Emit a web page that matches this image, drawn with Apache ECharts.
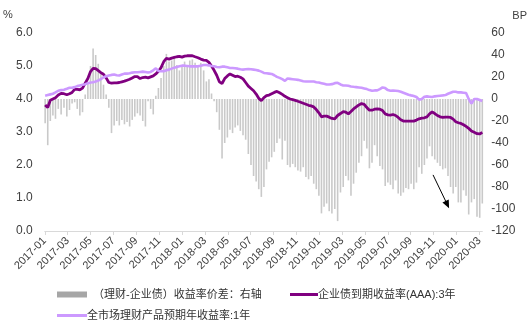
<!DOCTYPE html>
<html>
<head>
<meta charset="utf-8">
<script src="https://cdn.jsdelivr.net/npm/echarts@6/dist/echarts.min.js"></script>
<style>
  html, body { margin: 0; padding: 0; background: #fff; }
  #chart { width: 530px; height: 324px; }
</style>
</head>
<body>
<div id="chart"></div>
<script>
// Weekly observations, first week of 2017 through early March 2020
const firstWeek = '2017-01-02';
const weekCount = 167;

// 企业债到期收益率(AAA):3年, %
const corpYield = [
  3.82,3.74,3.96,4.00,4.04,4.12,4.17,4.16,4.13,4.16,
  4.20,4.29,4.29,4.28,4.33,4.48,4.62,4.83,4.93,4.92,
  4.86,4.80,4.75,4.64,4.50,4.48,4.49,4.49,4.50,4.52,
  4.54,4.57,4.60,4.64,4.68,4.68,4.62,4.65,4.66,4.64,
  4.67,4.70,4.76,4.84,4.95,5.13,5.23,5.21,5.24,5.26,
  5.28,5.29,5.27,5.30,5.31,5.31,5.31,5.28,5.25,5.21,
  5.18,5.17,5.11,5.00,4.87,4.72,4.52,4.47,4.62,4.70,
  4.76,4.72,4.68,4.69,4.66,4.61,4.50,4.39,4.32,4.25,
  4.15,4.02,3.95,4.04,4.10,4.12,4.16,4.20,4.23,4.19,
  4.14,4.08,4.04,4.00,3.98,3.96,3.93,3.90,3.87,3.84,
  3.81,3.79,3.76,3.68,3.58,3.46,3.48,3.48,3.45,3.41,
  3.40,3.50,3.56,3.62,3.60,3.55,3.62,3.70,3.76,3.82,
  3.86,3.84,3.74,3.66,3.66,3.69,3.70,3.69,3.65,3.55,
  3.52,3.51,3.53,3.50,3.44,3.37,3.33,3.33,3.33,3.33,
  3.33,3.36,3.40,3.42,3.43,3.46,3.55,3.61,3.56,3.50,
  3.46,3.44,3.45,3.45,3.44,3.39,3.31,3.28,3.26,3.22,
  3.17,3.11,3.03,2.99,2.95,2.94,2.99
];

// 全市场理财产品预期年收益率:1年, %
const wmpYield = [
  4.10,4.12,4.14,4.16,4.20,4.25,4.27,4.28,4.31,4.34,
  4.34,4.36,4.39,4.41,4.43,4.45,4.48,4.50,4.51,4.53,
  4.56,4.60,4.66,4.69,4.71,4.73,4.74,4.72,4.71,4.74,
  4.77,4.77,4.78,4.80,4.81,4.81,4.82,4.83,4.82,4.80,
  4.82,4.87,4.93,4.85,4.84,4.84,4.87,4.89,4.92,4.95,
  4.97,4.99,5.01,5.01,5.00,4.99,4.99,4.99,4.99,5.01,
  5.03,5.03,5.02,5.00,4.99,4.97,4.96,4.98,4.98,4.96,
  4.94,4.94,4.93,4.92,4.90,4.89,4.90,4.91,4.90,4.89,
  4.88,4.86,4.83,4.79,4.78,4.77,4.76,4.72,4.67,4.64,
  4.60,4.55,4.62,4.61,4.60,4.59,4.58,4.56,4.54,4.53,
  4.53,4.53,4.53,4.51,4.50,4.48,4.46,4.44,4.44,4.45,
  4.48,4.49,4.44,4.41,4.41,4.40,4.38,4.37,4.36,4.35,
  4.34,4.32,4.30,4.27,4.25,4.26,4.26,4.30,4.35,4.33,
  4.27,4.25,4.26,4.25,4.24,4.22,4.19,4.16,4.13,4.11,
  4.09,4.06,3.98,4.00,4.07,4.08,4.07,4.06,4.08,4.09,
  4.10,4.11,4.12,4.16,4.19,4.22,4.22,4.20,4.20,4.19,
  4.18,4.00,3.86,4.00,4.00,3.97,3.94
];

// （理财-企业债）收益率价差, BP (right axis)
const spreadBp = [
  -22,-42,-20,-15,-18,-9,-14,-8,-16,-10,
  -4,-3,-9,-15,-12,4,14,30,46,40,
  32,24,13,4,-8,-31,-24,-20,-24,-19,
  -23,-21,-25,-19,-16,-13,-15,-20,-25,-2,
  -9,-14,3,10,19,30,41,34,35,38,
  31,26,30,34,31,35,36,33,30,33,
  26,16,18,5,-2,-12,-28,-54,-40,-35,
  -28,-31,-26,-24,-29,-33,-37,-50,-60,-70,
  -75,-82,-89,-80,-64,-57,-53,-48,-40,-36,
  -55,-38,-60,-62,-59,-62,-65,-66,-62,-71,
  -73,-70,-77,-82,-88,-104,-98,-95,-102,-104,
  -100,-111,-85,-80,-70,-74,-88,-77,-67,-58,
  -52,-38,-45,-63,-58,-42,-52,-61,-64,-79,
  -76,-78,-82,-74,-86,-88,-85,-81,-82,-77,
  -82,-76,-62,-68,-60,-54,-43,-52,-55,-58,
  -61,-64,-63,-70,-80,-86,-80,-94,-94,-83,
  -88,-105,-94,-91,-107,-108,-95
];

const names = {
  spread: '（理财-企业债）收益率价差：右轴',
  corp: '企业债到期收益率(AAA):3年',
  wmp: '全市场理财产品预期年收益率:1年'
};

const COLORS = { bar: '#c9c9c9', barKey: '#a6a6a6', corp: '#800080', wmp: '#cc99ff' };
const FONT = "'Liberation Sans','Noto Sans CJK SC',sans-serif";

// Week dates as strings
const weeks = [];
{
  const start = new Date(firstWeek + 'T00:00:00Z');
  for (let i = 0; i < weekCount; i++) {
    const d = new Date(start.getTime() + i * 7 * 86400000);
    weeks.push(d.toISOString().slice(0, 10));
  }
}

// Position on the x axis, in months since 2017-01
function monthPos(dateStr) {
  const [y, m, d] = dateStr.split('-').map(Number);
  const dim = new Date(Date.UTC(y, m, 0)).getUTCDate();
  return (y - 2017) * 12 + (m - 1) + (d - 1) / dim;
}
function monthLabel(v) {
  const y = 2017 + Math.floor(v / 12);
  const m = (v % 12) + 1;
  return y + '-' + (m < 10 ? '0' + m : m);
}

const xs = weeks.map(monthPos);
const tickMonths = [];
for (let m = 0; m <= 38; m += 2) tickMonths.push(m);

const legendText = { fontSize: 11, color: '#333', fontFamily: FONT };
function legendBlock(name, left, top, icon, color, h, w, textPad) {
  return {
    data: [{ name: name, icon: icon, itemStyle: { color: color } }],
    left: left, top: top,
    itemWidth: w, itemHeight: h,
    textStyle: Object.assign({ padding: textPad }, legendText),
    selectedMode: false
  };
}

const chart = echarts.init(document.getElementById('chart'), null, { renderer: 'canvas' });

chart.setOption({
  animation: false,
  textStyle: { fontFamily: FONT },
  grid: { left: 44.3, right: 47, top: 33, bottom: 93, containLabel: false },
  legend: [
    legendBlock(names.spread, 52, 284, 'rect', COLORS.barKey, 6, 30, [0, 0, 0, 1]),
    legendBlock(names.corp, 285, 284, 'rect', COLORS.corp, 3, 28, [0, 0, 0, -5]),
    legendBlock(names.wmp, 52, 305, 'rect', COLORS.wmp, 3, 30, [0, 0, 0, -5])
  ],
  xAxis: {
    type: 'value',
    min: 0, max: 38.26,
    splitLine: { show: false },
    axisLine: { show: true, lineStyle: { color: '#d9d9d9', width: 1 } },
    axisTick: { show: true, customValues: tickMonths, length: 4, lineStyle: { color: '#d9d9d9' } },
    axisLabel: {
      customValues: tickMonths,
      rotate: 45, margin: 8,
      fontSize: 11, color: '#404040', fontFamily: FONT,
      formatter: monthLabel
    }
  },
  yAxis: [
    {
      type: 'value', min: 0, max: 6, interval: 1,
      name: '%', nameLocation: 'end', nameGap: 13,
      nameTextStyle: { fontSize: 11, color: '#404040', align: 'right', padding: [0, 32, 0, 0] },
      axisLine: { show: false }, axisTick: { show: false }, splitLine: { show: false },
      axisLabel: { fontSize: 12, color: '#404040', margin: 12, formatter: v => v.toFixed(1) }
    },
    {
      type: 'value', min: -120, max: 60, interval: 20,
      name: 'BP', nameLocation: 'end', nameGap: 12,
      nameTextStyle: { fontSize: 11, color: '#404040', align: 'left', padding: [0, 0, 0, 30] },
      axisLine: { show: false }, axisTick: { show: false }, splitLine: { show: false },
      axisLabel: { fontSize: 12, color: '#404040', margin: 9 }
    }
  ],
  series: [
    {
      name: names.spread,
      type: 'bar',
      yAxisIndex: 1,
      barWidth: 1.6,
      itemStyle: { color: COLORS.bar },
      data: xs.map((x, i) => [x, spreadBp[i]]),
      markLine: {
        silent: true,
        symbol: ['none', 'triangle'],
        symbolSize: [7, 8],
        label: { show: false },
        lineStyle: { color: '#000', width: 1, type: 'solid' },
        data: [[{ coord: [33.95, -69] }, { coord: [35.2, -96] }]]
      },
      z: 1
    },
    {
      name: names.corp,
      type: 'line',
      yAxisIndex: 0,
      symbol: 'none',
      lineStyle: { color: COLORS.corp, width: 2.8 },
      itemStyle: { color: COLORS.corp },
      data: xs.map((x, i) => [x, corpYield[i]]),
      z: 3
    },
    {
      name: names.wmp,
      type: 'line',
      yAxisIndex: 0,
      symbol: 'none',
      lineStyle: { color: COLORS.wmp, width: 2.6 },
      itemStyle: { color: COLORS.wmp },
      data: xs.map((x, i) => [x, wmpYield[i]]),
      z: 4
    }
  ]
});
</script>
</body>
</html>
